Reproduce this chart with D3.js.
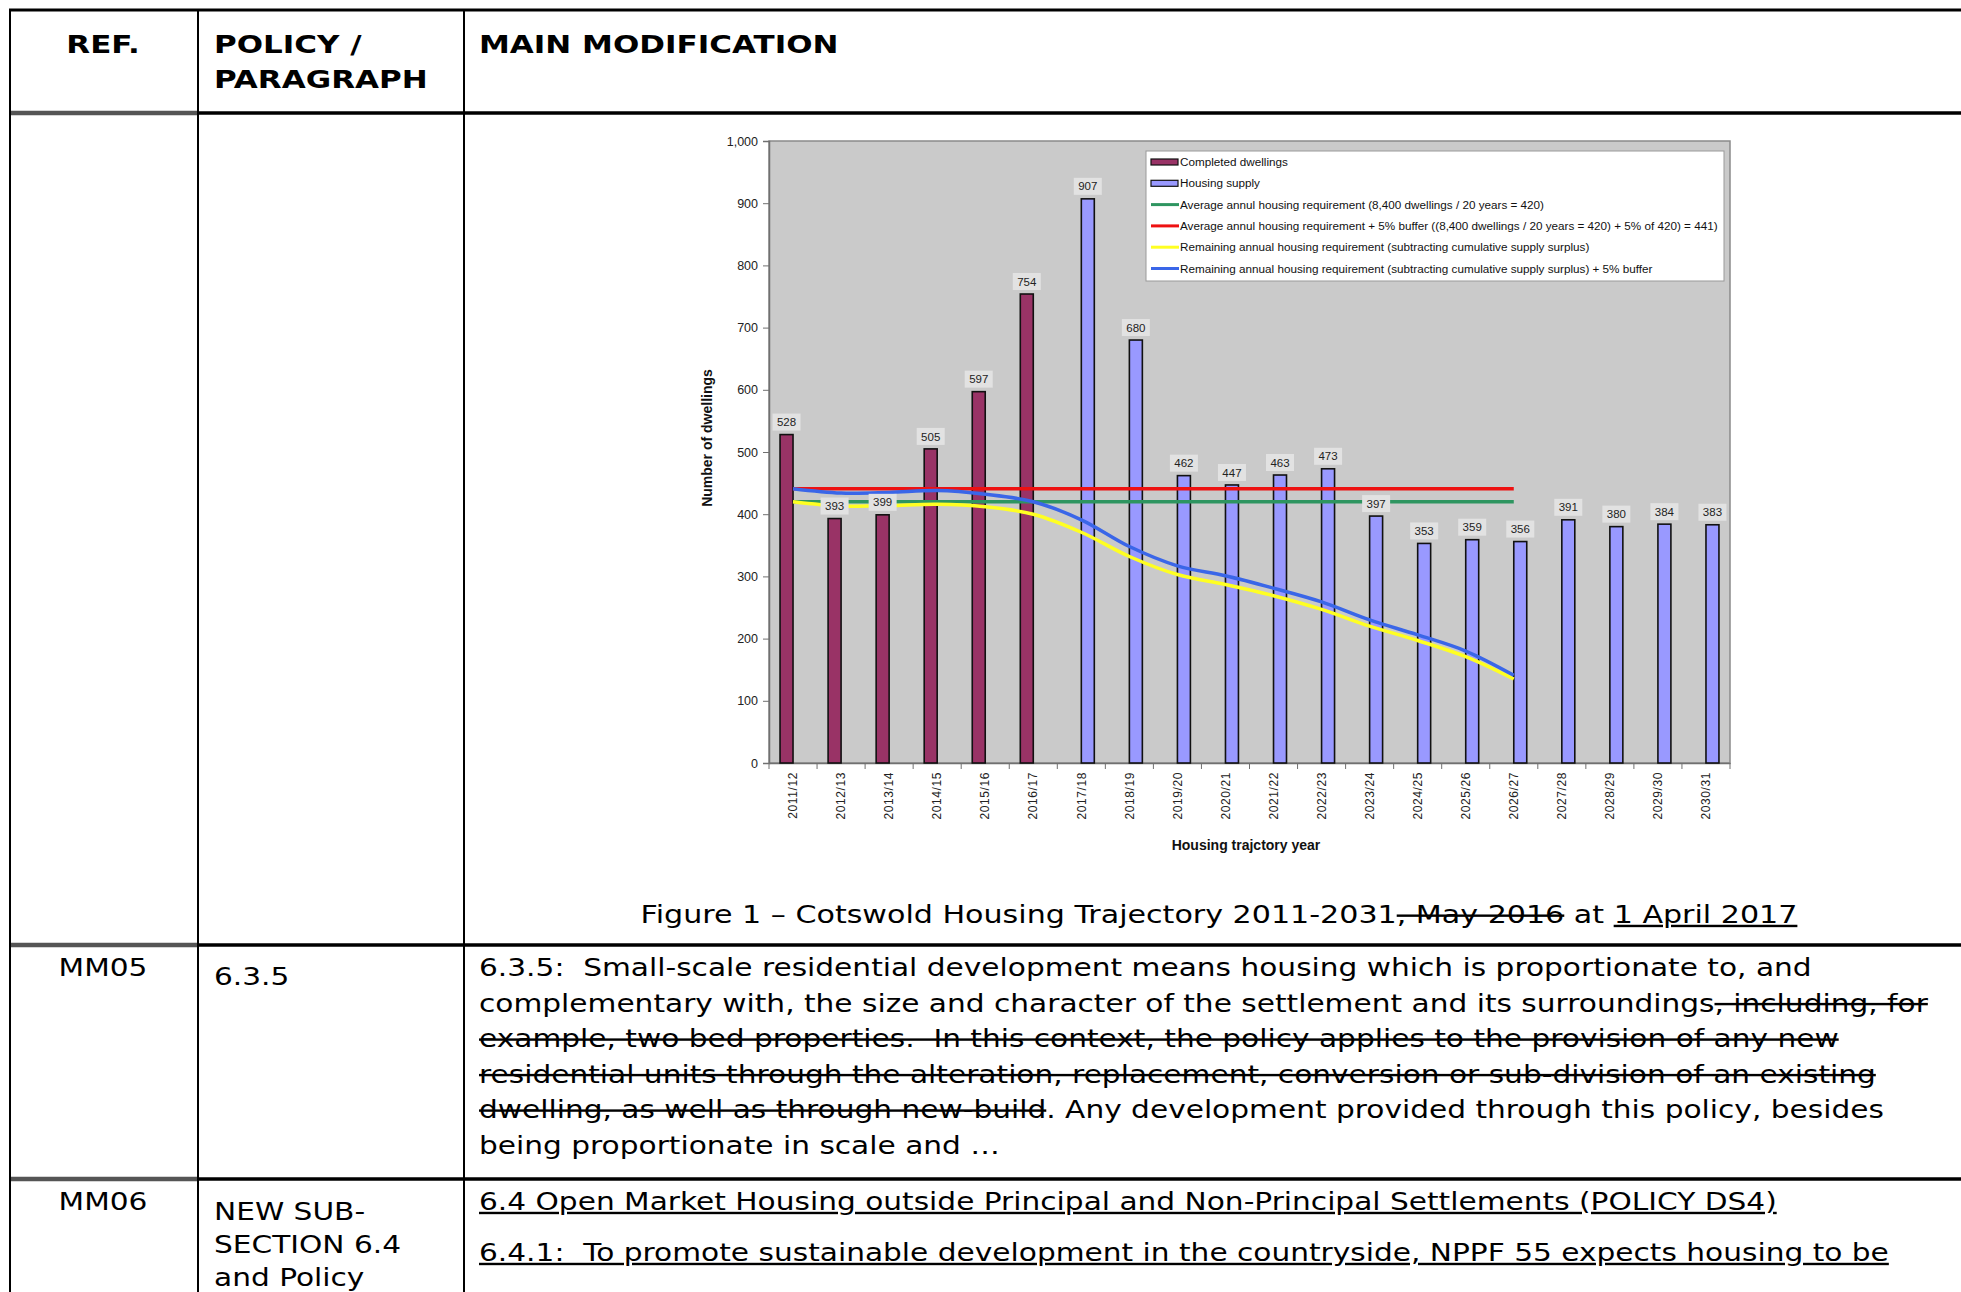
<!DOCTYPE html>
<html><head><meta charset="utf-8">
<script src="https://cdn.jsdelivr.net/npm/d3@7"></script>
<style>body{margin:0;background:#fff;overflow:hidden}</style>
</head><body>
<svg id="c" width="1961" height="1292"></svg>
<script>
// ---------- data ----------
const categories = ["2011/12","2012/13","2013/14","2014/15","2015/16","2016/17","2017/18","2018/19","2019/20","2020/21","2021/22","2022/23","2023/24","2024/25","2025/26","2026/27","2027/28","2028/29","2029/30","2030/31"];
const completed = [528,393,399,505,597,754,null,null,null,null,null,null,null,null,null,null,null,null,null,null];
const supply = [null,null,null,null,null,null,907,680,462,447,463,473,397,353,359,356,391,380,384,383];
const avgRequirement = [420,420,420,420,420,420,420,420,420,420,420,420,420,420,420,420];
const bufferRequirement = [441,441,441,441,441,441,441,441,441,441,441,441,441,441,441,441];
const remaining = [420,413,414,416,412,400,371,332,303,287,269,247,220,197,171,135];
const remainingBuffer = [441,434,435,438,432,420,391,348,317,301,281,259,230,206,180,141];
const yTicks = [0,100,200,300,400,500,600,700,800,900,1000];
const legendLabels = [
  "Completed dwellings",
  "Housing supply",
  "Average annul housing requirement (8,400 dwellings / 20 years = 420)",
  "Average annul housing requirement + 5% buffer ((8,400 dwellings / 20 years = 420) + 5% of 420) = 441)",
  "Remaining annual housing requirement (subtracting cumulative supply surplus)",
  "Remaining annual housing requirement (subtracting cumulative supply surplus) + 5% buffer"
];
const yTitle = "Number of dwellings";
const xTitle = "Housing trajctory year";

// table text
const headerCells = [["REF."],["POLICY /","PARAGRAPH"],["MAIN MODIFICATION"]];
const captionSegs = [["Figure 1 \u2013 Cotswold Housing Trajectory 2011-2031",""],[", May 2016","line-through"],[" at ",""],["1 April 2017","underline"]];
const mm05Lines = [
  [["6.3.5:  Small-scale residential development means housing which is proportionate to, and",""]],
  [["complementary with, the size and character of the settlement and its surroundings",""],[", including, for","line-through"]],
  [["example, two bed properties.  In this context, the policy applies to the provision of any new","line-through"]],
  [["residential units through the alteration, replacement, conversion or sub-division of an existing","line-through"]],
  [["dwelling, as well as through new-build","line-through"],[". Any development provided through this policy, besides",""]],
  [["being proportionate in scale and \u2026",""]]
];
const mm06Lines = [
  [["6.4 Open Market Housing outside Principal and Non-Principal Settlements (POLICY DS4)","underline"]],
  [["6.4.1:  To promote sustainable development in the countryside, NPPF 55 expects housing to be","underline"]]
];
const mm06Policy = ["NEW SUB-","SECTION 6.4","and Policy"];

// ---------- drawing ----------
const svg = d3.select("#c");
svg.append("rect").attr("width",1961).attr("height",1292).attr("fill","#fff");

const tFont = "'DejaVu Sans', Verdana, sans-serif";
const cFont = "'Liberation Sans', Arial, sans-serif";
const SX = 1.235, SXB = 1.24;

// table lines
const tbl = svg.append("g");
function hline(x1,x2,y,w,c){tbl.append("line").attr("x1",x1).attr("x2",x2).attr("y1",y).attr("y2",y).attr("stroke",c||"#000").attr("stroke-width",w);}
function vline(x,y1,y2,w){tbl.append("line").attr("x1",x).attr("x2",x).attr("y1",y1).attr("y2",y2).attr("stroke","#000").attr("stroke-width",w);}
hline(9,1961,10,3);
[113,945,1179].forEach(y=>{hline(198,1961,y,3.5);hline(9,198,y,4.5,"#555");});
vline(10,9,1292,2);
vline(198,9,1292,2);
vline(464,9,1292,2);

// wide (Verdana-like) text helper
function wtext(x,y,segs,opts){
  opts = opts||{};
  const sx = opts.sx || (opts.bold?SXB:SX);
  const g = svg.append("g").attr("transform",`translate(${x},${y}) scale(${sx},1)`);
  const t = g.append("text").attr("x",0).attr("y",0).attr("font-family",tFont)
    .attr("font-size",opts.bold?25:24).attr("font-weight",opts.bold?"bold":"normal")
    .attr("text-anchor",opts.anchor||"start").attr("fill","#000").style("white-space","pre");
  if(typeof segs==="string") segs=[[segs,""]];
  segs.forEach(s=>{const ts=t.append("tspan").text(s[0]); if(s[1]) ts.style("text-decoration",s[1]);});
  return t;
}

// header
wtext(103,53,headerCells[0][0],{bold:true,anchor:"middle"});
headerCells[1].forEach((t,i)=>wtext(214,53+35*i,t,{bold:true}));
wtext(479,53,headerCells[2][0],{bold:true});

// caption
wtext(1219,923,captionSegs,{anchor:"middle",sx:1.255});

// MM05
wtext(103,976,"MM05",{anchor:"middle"});
wtext(214,985,"6.3.5");
mm05Lines.forEach((l,i)=>wtext(479,976+35.5*i,l));
// MM06
wtext(103,1210,"MM06",{anchor:"middle"});
mm06Policy.forEach((t,i)=>wtext(214,1220+33*i,t));
wtext(479,1210,mm06Lines[0]);
wtext(479,1261,mm06Lines[1]);

// ---------- chart ----------
const L=769, R=1730, T=141, B=763;
const x = d3.scaleBand().domain(categories).range([L,R]).padding(0);
const x1 = d3.scaleBand().domain(["completed","supply"]).range([x.bandwidth()*0.23, x.bandwidth()*0.77]);
const y = d3.scaleLinear().domain([0,1000]).range([B,T]);

const ch = svg.append("g");
ch.append("rect").attr("x",L).attr("y",T).attr("width",R-L).attr("height",B-T).attr("fill","#cacaca").attr("stroke","#8a8a8a").attr("stroke-width",1.5);

// y axis
const yAxis = ch.append("g").attr("transform",`translate(${L},0)`).call(d3.axisLeft(y).tickValues(yTicks).tickFormat(d3.format(",")).tickSize(6).tickPadding(5));
yAxis.select(".domain").attr("stroke","#707070").attr("stroke-width",1.5);
yAxis.selectAll(".tick line").attr("stroke","#707070");
yAxis.selectAll("text").attr("font-family",cFont).attr("font-size",12.5).attr("fill","#222");

// x axis
const xAxis = ch.append("g").attr("transform",`translate(0,${B})`).call(d3.axisBottom(x).tickSize(0).tickPadding(0));
xAxis.select(".domain").attr("stroke","#707070").attr("stroke-width",1.5);
xAxis.selectAll(".tick text").attr("font-family",cFont).attr("font-size",12).attr("fill","#222")
  .attr("transform","rotate(-90)").attr("text-anchor","end").attr("x",-9).attr("y",0).attr("dy","0.35em").attr("letter-spacing",0.6);
// boundary ticks
ch.selectAll("line.bt").data(categories.concat(["__end"])).enter().append("line")
  .attr("x1",(d,i)=>L+i*x.bandwidth()).attr("x2",(d,i)=>L+i*x.bandwidth())
  .attr("y1",B).attr("y2",B+6).attr("stroke","#707070").attr("stroke-width",1);

// bars
const barsC = categories.map((c,i)=>({c,v:completed[i],s:"completed"})).filter(d=>d.v!=null);
const barsS = categories.map((c,i)=>({c,v:supply[i],s:"supply"})).filter(d=>d.v!=null);
const allBars = barsC.concat(barsS);
ch.selectAll("rect.bar").data(allBars).enter().append("rect")
  .attr("x",d=>x(d.c)+x1(d.s)).attr("width",x1.bandwidth())
  .attr("y",d=>y(d.v)).attr("height",d=>y(0)-y(d.v))
  .attr("fill",d=>d.s==="completed"?"#993366":"#9999ff").attr("stroke","#111").attr("stroke-width",1.6);

// lines
const cx = (i)=>x(categories[i])+x.bandwidth()/2;
const straight = d3.line().x((d,i)=>cx(i)).y(d=>y(d));
const smooth = d3.line().x((d,i)=>cx(i)).y(d=>y(d)).curve(d3.curveCatmullRom.alpha(0.5));
ch.append("path").attr("d",straight(avgRequirement)).attr("fill","none").attr("stroke","#2e9560").attr("stroke-width",3.5);
ch.append("path").attr("d",straight(bufferRequirement)).attr("fill","none").attr("stroke","#ee1111").attr("stroke-width",3.5);
ch.append("path").attr("d",smooth(remaining)).attr("fill","none").attr("stroke","#ffff22").attr("stroke-width",3.5);
ch.append("path").attr("d",smooth(remainingBuffer)).attr("fill","none").attr("stroke","#3a66e8").attr("stroke-width",3.5);

// value labels
const lab = ch.selectAll("g.lab").data(allBars).enter().append("g")
  .attr("transform",d=>`translate(${x(d.c)+x1(d.s)+x1.bandwidth()/2},${y(d.v)-12.5})`);
lab.append("rect").attr("x",-14).attr("y",-8.5).attr("width",28).attr("height",17).attr("fill","#e2e2e2");
lab.append("text").attr("text-anchor","middle").attr("dy","0.36em").attr("font-family",cFont).attr("font-size",11.5).attr("fill","#222").text(d=>d.v);

// axis titles
ch.append("text").attr("transform","translate(712,438) rotate(-90)").attr("text-anchor","middle").attr("font-family",cFont).attr("font-weight","bold").attr("font-size",14).attr("fill","#111").text(yTitle);
ch.append("text").attr("x",1246).attr("y",850).attr("text-anchor","middle").attr("font-family",cFont).attr("font-weight","bold").attr("font-size",14).attr("fill","#111").text(xTitle);

// legend
const lg = ch.append("g");
lg.append("rect").attr("x",1146).attr("y",151).attr("width",578).attr("height",130).attr("fill","#fff").attr("stroke","#999").attr("stroke-width",1);
const legendStyles = [
  {type:"bar",color:"#993366"},{type:"bar",color:"#9999ff"},
  {type:"line",color:"#2e9560"},{type:"line",color:"#ee1111"},
  {type:"line",color:"#ffff22"},{type:"line",color:"#3a66e8"}
];
legendLabels.forEach((t,i)=>{
  const yy = 162 + i*21.3;
  const st = legendStyles[i];
  if(st.type==="bar") lg.append("rect").attr("x",1151).attr("y",yy-3).attr("width",27).attr("height",6).attr("fill",st.color).attr("stroke","#111").attr("stroke-width",1.2);
  else lg.append("line").attr("x1",1151).attr("x2",1179).attr("y1",yy).attr("y2",yy).attr("stroke",st.color).attr("stroke-width",3);
  lg.append("text").attr("x",1180).attr("y",yy).attr("dy","0.35em").attr("font-family",cFont).attr("font-size",11.7).attr("fill","#111").text(t);
});
</script>
</body></html>
